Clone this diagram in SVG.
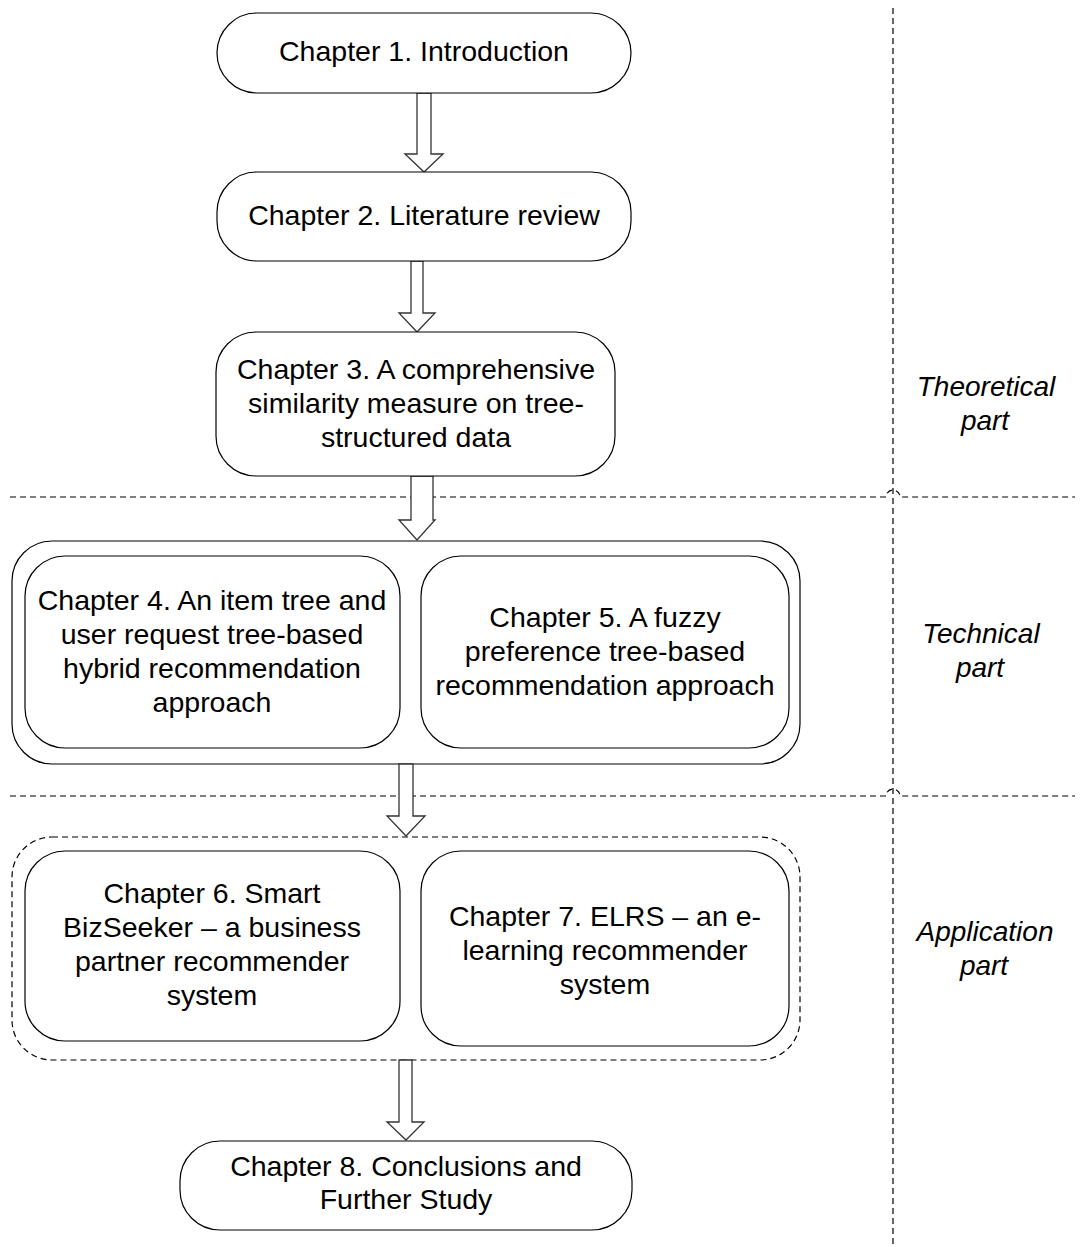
<svg xmlns="http://www.w3.org/2000/svg" width="1081" height="1247" viewBox="0 0 1081 1247">
  <style>
    .box { fill: #ffffff; stroke: #000000; stroke-width: 1.2; }
    .dash { fill: none; stroke: #000000; stroke-width: 1.2; stroke-dasharray: 6 4; }
    .arrow { fill: #ffffff; stroke: #333333; stroke-width: 1.3; }
    .t { font-family: "Liberation Sans", Arial, sans-serif; font-size: 28.5px; fill: #000000; text-anchor: middle; }
    .part { font-family: "Liberation Sans", Arial, sans-serif; font-size: 28px; font-style: italic; fill: #000000; text-anchor: middle; }
  </style>
  <rect width="1081" height="1247" fill="#ffffff"/>

  <!-- section dividers -->
  <g id="dividers">
    <line class="dash" x1="893" y1="8" x2="893" y2="1245"/>
    <path class="dash" d="M10 497 H886 A7 7 0 0 1 900 497 H1075"/>
    <path class="dash" d="M10 796 H886 A7 7 0 0 1 900 796 H1075"/>
  </g>

  <!-- part labels -->
  <g id="labels">
    <text class="part" x="986" y="396">Theoretical</text>
    <text class="part" x="985" y="430">part</text>
    <text class="part" x="981" y="643">Technical</text>
    <text class="part" x="980" y="677">part</text>
    <text class="part" x="985" y="941">Application</text>
    <text class="part" x="984" y="975">part</text>
  </g>

  <!-- containers -->
  <g id="technical-group">
    <rect class="box" x="12" y="541" width="788" height="223" rx="40" ry="40"/>
  </g>
  <g id="application-group">
    <rect class="dash" x="12" y="837" width="788" height="223" rx="40" ry="40"/>
  </g>

  <!-- connectors -->
  <g id="connectors">
    <polygon class="arrow" points="417,93 431,93 431,154 443,154 424,172 405,154 417,154"/>
    <polygon class="arrow" points="411,261 423,261 423,313 435,313 417,332 399,313 411,313"/>
    <polygon class="arrow" points="411,476 433,476 433,520 435,520 417,540 399,520 411,520"/>
    <polygon class="arrow" points="399,764 413,764 413,816 425,816 406,836 387,816 399,816"/>
    <polygon class="arrow" points="399,1060 412,1060 412,1122 424,1122 406,1140 387,1122 399,1122"/>
  </g>

  <g id="ch1">
    <rect class="box" x="217" y="13" width="414" height="80" rx="40" ry="40"/>
    <text class="t" x="424" y="61">Chapter 1. Introduction</text>
  </g>
  <g id="ch2">
    <rect class="box" x="217" y="172" width="414" height="89" rx="40" ry="40"/>
    <text class="t" x="424" y="225">Chapter 2. Literature review</text>
  </g>
  <g id="ch3">
    <rect class="box" x="216" y="332" width="399" height="144" rx="40" ry="40"/>
    <text class="t" x="416" y="379">Chapter 3. A comprehensive</text>
    <text class="t" x="416" y="413">similarity measure on tree-</text>
    <text class="t" x="416" y="447">structured data</text>
  </g>
  <g id="ch4">
    <rect class="box" x="25" y="556" width="375" height="192" rx="40" ry="40"/>
    <text class="t" x="212" y="610">Chapter 4. An item tree and</text>
    <text class="t" x="212" y="644">user request tree-based</text>
    <text class="t" x="212" y="678">hybrid recommendation</text>
    <text class="t" x="212" y="712">approach</text>
  </g>
  <g id="ch5">
    <rect class="box" x="421" y="556" width="368" height="192" rx="40" ry="40"/>
    <text class="t" x="605" y="627">Chapter 5. A fuzzy</text>
    <text class="t" x="605" y="661">preference tree-based</text>
    <text class="t" x="605" y="695">recommendation approach</text>
  </g>
  <g id="ch6">
    <rect class="box" x="25" y="851" width="375" height="190" rx="40" ry="40"/>
    <text class="t" x="212" y="903">Chapter 6. Smart</text>
    <text class="t" x="212" y="937">BizSeeker – a business</text>
    <text class="t" x="212" y="971">partner recommender</text>
    <text class="t" x="212" y="1005">system</text>
  </g>
  <g id="ch7">
    <rect class="box" x="421" y="851" width="368" height="195" rx="40" ry="40"/>
    <text class="t" x="605" y="926">Chapter 7. ELRS – an e-</text>
    <text class="t" x="605" y="960">learning recommender</text>
    <text class="t" x="605" y="994">system</text>
  </g>
  <g id="ch8">
    <rect class="box" x="180" y="1141" width="452" height="89" rx="40" ry="40"/>
    <text class="t" x="406" y="1176">Chapter 8. Conclusions and</text>
    <text class="t" x="406" y="1209">Further Study</text>
  </g>
</svg>
